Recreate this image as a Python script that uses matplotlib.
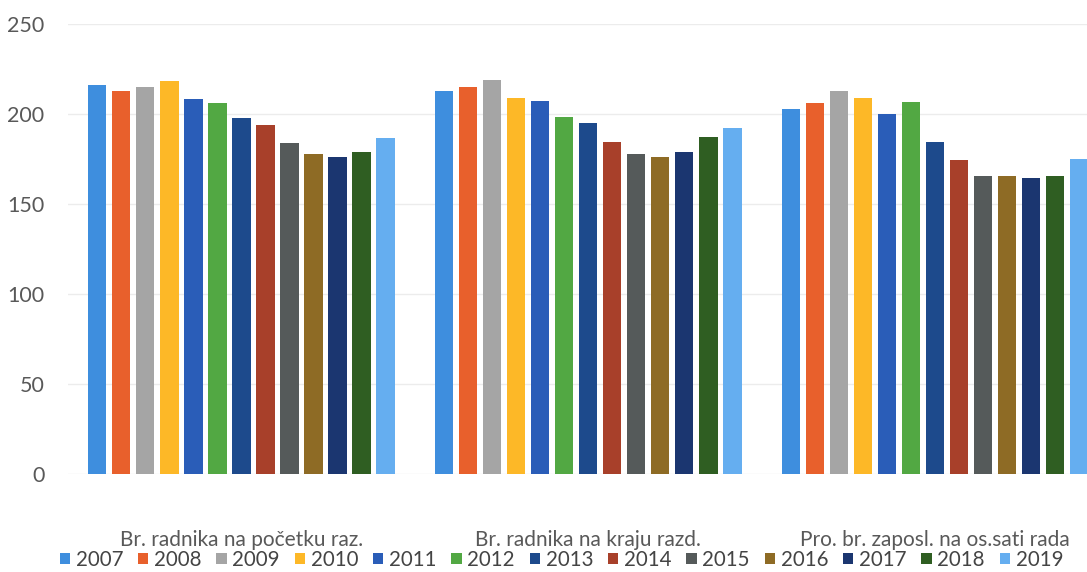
import numpy as np
import matplotlib.pyplot as plt

categories = ["Br. radnika na početku raz.", "Br. radnika na kraju razd.", "Pro. br. zaposl. na os.sati rada"]
years = ["2007", "2008", "2009", "2010", "2011", "2012", "2013",
         "2014", "2015", "2016", "2017", "2018", "2019"]

# one list per category, values by year
pocetak = [216, 213, 215, 218.5, 208.5, 206, 198, 194, 184, 178, 176, 179, 186.5]
kraj = [213, 215, 219, 209, 207, 198.5, 195, 184.5, 178, 176, 179, 187, 192]
sati = [203, 206, 213, 209, 200, 206.5, 184.5, 174.5, 165.5, 165.5, 164.5, 165.5, 175]

colors = ["#3e8ede", "#e8602c", "#a5a5a5", "#fdb827", "#2a5db8", "#52a843", "#1d4a8c",
          "#a8402a", "#555a5a", "#8e6b25", "#1b3670", "#2f5e22", "#65aef0"]

plt.rcParams['font.family'] = ['Lato', 'DejaVu Sans']

fig = plt.figure(figsize=(10.87, 5.72), dpi=100)
ax = fig.add_axes([0.0626, 0.171, 0.957, 0.787])

data = np.array([pocetak, kraj, sati])
x = np.arange(len(categories))
slot = 0.0693
w = 0.053
for i, y in enumerate(years):
    ax.bar(x + (i - 6) * slot, data[:, i], width=w, color=colors[i], label=y, zorder=2)

ax.set_xlim(-0.5, 2.5)
ax.set_ylim(0, 250)
ax.set_yticks(range(0, 251, 50))
ax.set_xticks(x)
ax.set_xticklabels(categories)
ax.yaxis.grid(True, color="#ececec", linewidth=1, zorder=0)
for s in ax.spines.values():
    s.set_visible(False)
ax.tick_params(axis='both', length=0, labelsize=15.5, colors="#595959")
ax.tick_params(axis='x', pad=40, labelsize=15)
ax.tick_params(axis='y', pad=17)

leg = ax.legend(loc='center left', bbox_to_anchor=(-0.008, -0.19), ncol=13, frameon=False,
                fontsize=14.8, handlelength=0.5, handleheight=0.5, handletextpad=0.28,
                columnspacing=0.72, borderaxespad=0, borderpad=0)
for t in leg.get_texts():
    t.set_color("#444444")

fig.savefig("out.png", dpi=100)
